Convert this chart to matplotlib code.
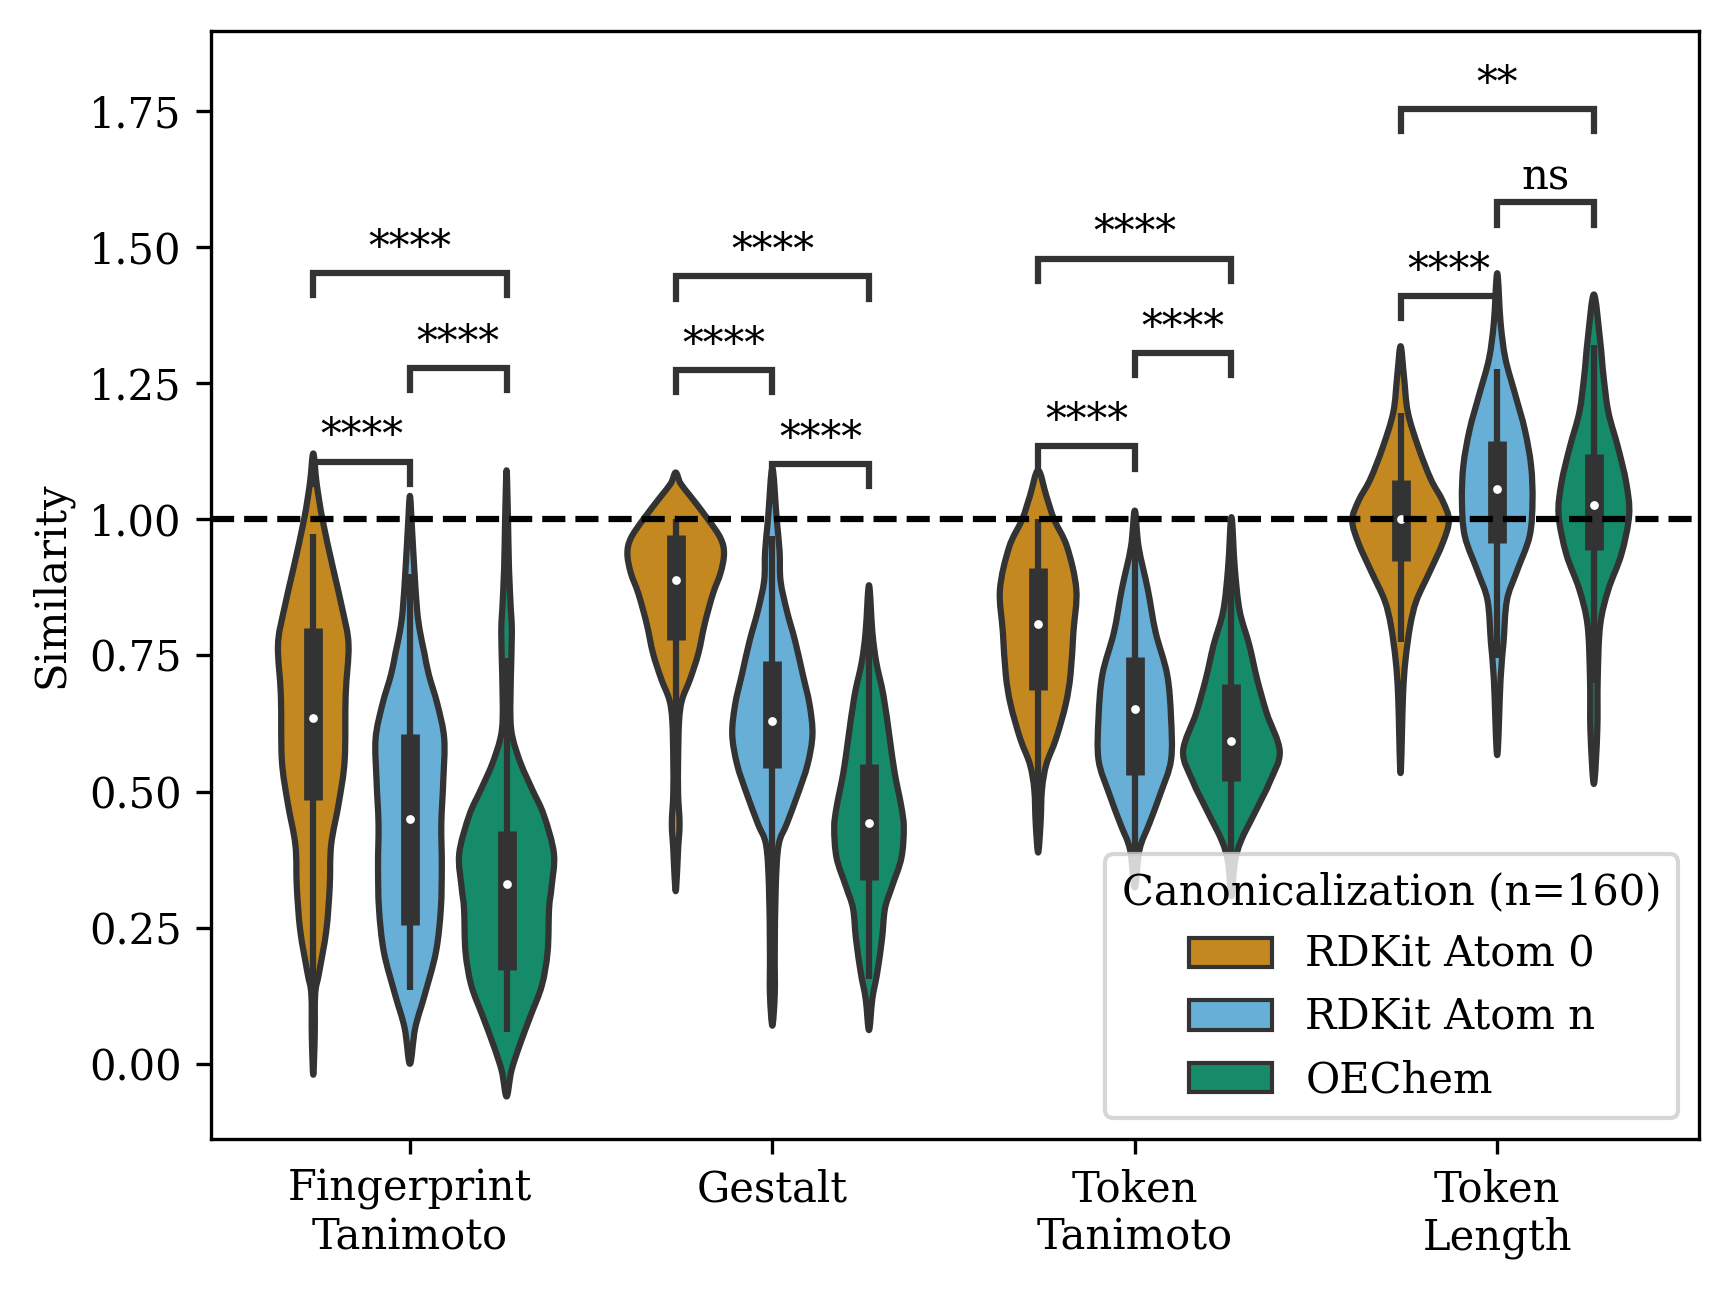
import colorsys
import matplotlib
matplotlib.use("Agg")
import matplotlib.pyplot as plt
from matplotlib.colors import to_rgb
from matplotlib.patches import Patch, PathPatch
from matplotlib.path import Path

plt.rcParams['font.family'] = ['DejaVu Serif']

metrics = ["Fingerprint\nTanimoto", "Gestalt", "Token\nTanimoto", "Token\nLength"]
methods = ["RDKit Atom 0", "RDKit Atom n", "OEChem"]
base_colors = ["#DE8F05", "#56B4E9", "#029E73"]

# violin outlines: similarity (top -> bottom) and
# relative density (1 = widest violin in the plot)
ft_rd0_y = [1.121, 1.066, 1.0, 0.91, 0.832, 0.769, 0.676, 0.558, 0.48, 0.402, 0.324, 0.245, 0.167, 0.128, 0.05, -0.02]
ft_rd0_d = [0, 0.07, 0.19, 0.41, 0.61, 0.73, 0.67, 0.65, 0.53, 0.37, 0.34, 0.27, 0.12, 0.04, 0.03, 0]
ft_rdn_y = [1.043, 0.988, 0.91, 0.832, 0.793, 0.754, 0.715, 0.66, 0.597, 0.519, 0.441, 0.363, 0.285, 0.206, 0.128, 0.066, 0.0]
ft_rdn_d = [0, 0.04, 0.09, 0.15, 0.21, 0.30, 0.39, 0.57, 0.71, 0.69, 0.65, 0.66, 0.64, 0.54, 0.31, 0.11, 0]
ft_oe_y = [1.09, 1.0, 0.91, 0.832, 0.793, 0.715, 0.636, 0.597, 0.55, 0.504, 0.457, 0.386, 0.324, 0.285, 0.206, 0.144, 0.089, 0.034, -0.013, -0.06]
ft_oe_d = [0, 0.03, 0.05, 0.09, 0.11, 0.09, 0.08, 0.13, 0.30, 0.53, 0.77, 0.98, 0.93, 0.88, 0.85, 0.73, 0.50, 0.27, 0.10, 0]

ge_rd0_y = [1.086, 1.066, 1.043, 1.0, 0.965, 0.937, 0.902, 0.863, 0.808, 0.754, 0.707, 0.668, 0.629, 0.558, 0.496, 0.441, 0.394, 0.355, 0.317]
ge_rd0_d = [0, 0.10, 0.30, 0.67, 0.93, 1.0, 0.93, 0.77, 0.60, 0.47, 0.30, 0.13, 0.07, 0.05, 0.05, 0.08, 0.05, 0.03, 0]
ge_rdn_y = [1.094, 1.0, 0.941, 0.887, 0.832, 0.777, 0.715, 0.66, 0.605, 0.55, 0.496, 0.441, 0.402, 0.324, 0.206, 0.128, 0.07]
ge_rdn_d = [0, 0.09, 0.15, 0.17, 0.30, 0.47, 0.63, 0.77, 0.83, 0.73, 0.53, 0.30, 0.13, 0.07, 0.05, 0.05, 0]
ge_oe_y = [0.879, 0.793, 0.738, 0.676, 0.597, 0.535, 0.472, 0.433, 0.378, 0.324, 0.285, 0.23, 0.167, 0.12, 0.062]
ge_oe_d = [0, 0.07, 0.15, 0.30, 0.43, 0.53, 0.67, 0.72, 0.67, 0.47, 0.33, 0.27, 0.17, 0.07, 0]

tt_rd0_y = [1.09, 1.043, 1.0, 0.949, 0.871, 0.793, 0.715, 0.66, 0.597, 0.55, 0.504, 0.441, 0.388]
tt_rd0_d = [0, 0.17, 0.33, 0.60, 0.79, 0.73, 0.67, 0.57, 0.37, 0.17, 0.08, 0.05, 0]
tt_rdn_y = [1.016, 0.949, 0.871, 0.793, 0.715, 0.636, 0.558, 0.496, 0.441, 0.394, 0.324]
tt_rdn_d = [0, 0.08, 0.27, 0.43, 0.67, 0.75, 0.75, 0.53, 0.30, 0.10, 0]
tt_oe_y = [1.004, 0.91, 0.832, 0.769, 0.707, 0.644, 0.574, 0.519, 0.464, 0.41, 0.37, 0.308]
tt_oe_d = [0, 0.07, 0.17, 0.37, 0.53, 0.73, 1.0, 0.80, 0.50, 0.20, 0.07, 0]

tl_rd0_y = [1.318, 1.263, 1.197, 1.132, 1.073, 1.034, 0.998, 0.956, 0.903, 0.851, 0.805, 0.74, 0.675, 0.534]
tl_rd0_d = [0, 0.07, 0.15, 0.37, 0.63, 0.87, 1.0, 0.87, 0.60, 0.33, 0.20, 0.10, 0.05, 0]
tl_rdn_y = [1.452, 1.361, 1.295, 1.23, 1.165, 1.099, 1.034, 0.969, 0.903, 0.851, 0.773, 0.707, 0.567]
tl_rdn_d = [0, 0.07, 0.17, 0.37, 0.57, 0.70, 0.73, 0.67, 0.40, 0.20, 0.13, 0.07, 0]
tl_oe_y = [1.413, 1.328, 1.263, 1.197, 1.132, 1.067, 1.008, 0.936, 0.871, 0.805, 0.707, 0.609, 0.514]
tl_oe_d = [0, 0.13, 0.20, 0.30, 0.50, 0.67, 0.73, 0.57, 0.30, 0.13, 0.08, 0.07, 0]

violin_y = [[ft_rd0_y, ft_rdn_y, ft_oe_y], [ge_rd0_y, ge_rdn_y, ge_oe_y],
            [tt_rd0_y, tt_rdn_y, tt_oe_y], [tl_rd0_y, tl_rdn_y, tl_oe_y]]
violin_d = [[ft_rd0_d, ft_rdn_d, ft_oe_d], [ge_rd0_d, ge_rdn_d, ge_oe_d],
            [tt_rd0_d, tt_rdn_d, tt_oe_d], [tl_rd0_d, tl_rdn_d, tl_oe_d]]

# inner box: quartiles, median and whisker ends
box_q1 = [[0.484, 0.255, 0.173], [0.779, 0.543, 0.338], [0.687, 0.53, 0.52], [0.924, 0.957, 0.944]]
box_med = [[0.635, 0.45, 0.331], [0.888, 0.63, 0.443], [0.808, 0.652, 0.592], [1.0, 1.056, 1.026]]
box_q3 = [[0.80, 0.605, 0.427], [0.971, 0.74, 0.55], [0.91, 0.748, 0.697], [1.072, 1.143, 1.12]]
whisk_lo = [[0.128, 0.136, 0.058], [0.55, 0.25, 0.156], [0.45, 0.38, 0.37], [0.774, 0.746, 0.70]]
whisk_hi = [[0.973, 0.90, 0.746], [1.0, 0.969, 0.86], [1.0, 0.96, 0.92], [1.196, 1.276, 1.32]]

# significance brackets: metric, first method, second method, height, label
sig_metric = [0, 0, 0, 1, 1, 1, 2, 2, 2, 3, 3, 3]
sig_a = [0, 1, 0, 0, 1, 0, 0, 1, 0, 0, 1, 0]
sig_b = [1, 2, 2, 1, 2, 2, 1, 2, 2, 1, 2, 2]
sig_y = [1.106, 1.278, 1.452, 1.274, 1.102, 1.446, 1.134, 1.306, 1.479, 1.41, 1.582, 1.754]
sig_text = ["****", "****", "****", "****", "****", "****", "****", "****", "****", "****", "ns", "**"]


def desaturate(color, prop):
    h, l, s = colorsys.rgb_to_hls(*to_rgb(color))
    return colorsys.hls_to_rgb(h, l, s * prop)


def smooth_closed_path(pts):
    # closed curve through the outline points, drawn with cubic Bezier segments
    n = len(pts)
    verts = [pts[0]]
    codes = [Path.MOVETO]
    for i in range(n):
        p0, p1 = pts[i - 1], pts[i]
        p2, p3 = pts[(i + 1) % n], pts[(i + 2) % n]
        c1 = (p1[0] + (p2[0] - p0[0]) / 6, p1[1] + (p2[1] - p0[1]) / 6)
        c2 = (p2[0] - (p3[0] - p1[0]) / 6, p2[1] - (p3[1] - p1[1]) / 6)
        verts += [c1, c2, p2]
        codes += [Path.CURVE4] * 3
    verts.append(pts[0])
    codes.append(Path.CLOSEPOLY)
    return Path(verts, codes)


colors = [desaturate(c, 0.75) for c in base_colors]

fig = plt.figure(figsize=(1729 / 300, 1289 / 300), dpi=300)
ax = fig.add_axes([0.122, 0.1164, 0.8607, 0.8596])

width = 0.8
n = len(methods)
half_max = width / n / 2
offsets = [(i - (n - 1) / 2) * width / n for i in range(n)]

for g in range(len(metrics)):
    for h in range(n):
        x = g + offsets[h]
        hw = [half_max * d for d in violin_d[g][h]]
        ys = violin_y[g][h]
        right = [(x + w, y) for w, y in zip(hw, ys)]
        left = [(x - w, y) for w, y in zip(hw[1:-1], ys[1:-1])][::-1]
        patch = PathPatch(smooth_closed_path(right + left), facecolor=colors[h],
                          edgecolor='.2', linewidth=1.5, joinstyle='round', zorder=1)
        ax.add_patch(patch)
        ax.plot([x, x], [whisk_lo[g][h], whisk_hi[g][h]], color='.2', lw=1.5,
                solid_capstyle='butt', zorder=2)
        ax.plot([x, x], [box_q1[g][h], box_q3[g][h]], color='.2', lw=4.5,
                solid_capstyle='butt', zorder=2)
        ax.plot([x], [box_med[g][h]], 'o', color='white', ms=2.1, mew=0, zorder=3)

ax.axhline(1.0, color='k', ls='--', lw=1.5, zorder=4)

ylim = (-0.138, 1.897)
ax.set_ylim(*ylim)
ax.set_xlim(-0.549, 3.557)
tip = 0.02 * (ylim[1] - ylim[0])
for g, a, b, yb, txt in zip(sig_metric, sig_a, sig_b, sig_y, sig_text):
    x1 = g + offsets[a]
    x2 = g + offsets[b]
    ax.plot([x1, x1, x2, x2], [yb - tip, yb, yb, yb - tip], color='.2', lw=1.5,
            solid_joinstyle='miter', zorder=5)
    ax.annotate(txt, xy=((x1 + x2) / 2, yb), xytext=(0, 1), textcoords='offset points',
                ha='center', va='bottom', fontsize=10)

ax.set_xticks(range(len(metrics)))
ax.set_xticklabels(metrics, fontsize=10)
ax.set_yticks([0, 0.25, 0.5, 0.75, 1.0, 1.25, 1.5, 1.75])
ax.set_yticklabels(["%.2f" % t for t in [0, 0.25, 0.5, 0.75, 1.0, 1.25, 1.5, 1.75]], fontsize=10)
ax.set_ylabel("Similarity", fontsize=10)

handles = [Patch(facecolor=c, edgecolor='.2', linewidth=1.0, label=m) for c, m in zip(colors, methods)]
leg = ax.legend(handles=handles, title="Canonicalization (n=160)", loc='lower right',
                fontsize=10, title_fontsize=10)
leg.set_zorder(10)

fig.savefig("out.png", dpi=300)
